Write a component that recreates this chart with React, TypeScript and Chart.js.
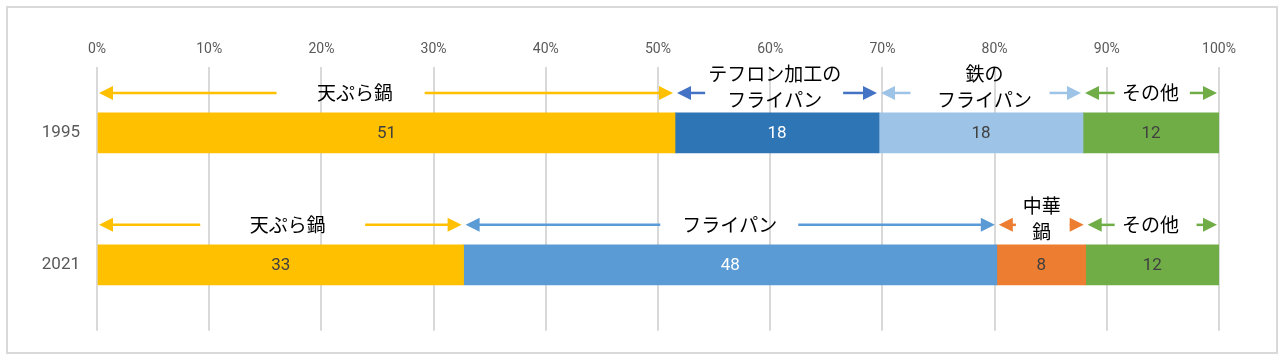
import React, { useEffect, useRef } from 'react';
import { Chart, registerables } from 'chart.js';

Chart.register(...registerables);

// ---- data ----
const years = ['1995', '2021'];
const values1995 = [51, 18, 18, 12];
const values2021 = [33, 48, 8, 12];
const names1995 = ['天ぷら鍋', 'テフロン加工の\nフライパン', '鉄の\nフライパン', 'その他'];
const names2021 = ['天ぷら鍋', 'フライパン', '中華\n鍋', 'その他'];
const xTickValues = [0, 10, 20, 30, 40, 50, 60, 70, 80, 90, 100];

// ---- styles ----
const barColors1995 = ['#FFC000', '#2E75B6', '#9DC3E6', '#70AD47'];
const barColors2021 = ['#FFC000', '#5B9BD5', '#ED7D31', '#70AD47'];
const arrowColors1995 = ['#FFC000', '#4472C4', '#9DC3E6', '#70AD47'];
const arrowColors2021 = ['#FFC000', '#5B9BD5', '#ED7D31', '#70AD47'];
const valueColors1995 = ['#404040', '#FFFFFF', '#404040', '#404040'];
const valueColors2021 = ['#404040', '#FFFFFF', '#404040', '#404040'];

// annotation layout in axis (%) units: text centre, end of left arrow tail, start of right arrow tail
const annotLayout1995 = [
  { c: 23.0, l: 16.0, r: 29.2 },
  { c: 60.4, l: 54.2, r: 66.5 },
  { c: 79.1, l: 72.5, r: 84.9 },
  { c: 93.9, l: 90.7, r: 97.4 },
];
const annotLayout2021 = [
  { c: 17.0, l: 9.2, r: 23.9 },
  { c: 56.4, l: 50.2, r: 62.5 },
  { c: 84.2, l: 81.9, r: 86.7 },
  { c: 93.9, l: 90.7, r: 98.0 },
];

const toPct = (arr: number[]) => {
  const s = arr.reduce((a, b) => a + b, 0);
  return arr.map((v) => (v / s) * 100);
};
const pct1995 = toPct(values1995);
const pct2021 = toPct(values2021);

const rows = [
  { vals: values1995, pct: pct1995, names: names1995, arrows: arrowColors1995, layout: annotLayout1995, valColors: valueColors1995 },
  { vals: values2021, pct: pct2021, names: names2021, arrows: arrowColors2021, layout: annotLayout2021, valColors: valueColors2021 },
];

const JP_FONT = '"Noto Sans CJK JP", "Noto Sans", sans-serif';
const NUM_FONT = 'Roboto, "Noto Sans", sans-serif';

function drawArrow(ctx: CanvasRenderingContext2D, from: number, tip: number, y: number, color: string) {
  const dir = tip > from ? 1 : -1;
  const headLen = 14;
  const headHalf = 7;
  ctx.save();
  ctx.strokeStyle = color;
  ctx.fillStyle = color;
  ctx.lineWidth = 2.5;
  ctx.beginPath();
  ctx.moveTo(from, y);
  ctx.lineTo(tip - dir * headLen + dir * 1, y);
  ctx.stroke();
  ctx.beginPath();
  ctx.moveTo(tip, y);
  ctx.lineTo(tip - dir * headLen, y - headHalf);
  ctx.lineTo(tip - dir * headLen, y + headHalf);
  ctx.closePath();
  ctx.fill();
  ctx.restore();
}

const annotationPlugin = {
  id: 'segAnnotations',
  afterDatasetsDraw(chart: any) {
    const ctx: CanvasRenderingContext2D = chart.ctx;
    const xs = chart.scales.x;
    // values on bars
    chart.data.datasets.forEach((ds: any, di: number) => {
      const meta = chart.getDatasetMeta(di);
      meta.data.forEach((bar: any, ri: number) => {
        const row = rows[ri];
        const cx = (bar.x + bar.base) / 2;
        ctx.save();
        ctx.fillStyle = row.valColors[di];
        ctx.font = `17px ${NUM_FONT}`;
        ctx.textAlign = 'center';
        ctx.textBaseline = 'middle';
        ctx.fillText(String(row.vals[di]), cx, bar.y + 1);
        ctx.restore();
      });
    });
    // arrows and names
    rows.forEach((row, ri) => {
      const bar = chart.getDatasetMeta(0).data[ri];
      const top = bar.y - bar.height / 2;
      const arrowY = top - 20;
      let acc = 0;
      row.pct.forEach((p, i) => {
        const start = acc;
        const end = acc + p;
        acc = end;
        const xStart = xs.getPixelForValue(start);
        const xEnd = xs.getPixelForValue(end);
        const lay = row.layout[i];
        const color = row.arrows[i];
        drawArrow(ctx, xs.getPixelForValue(lay.l), xStart + 2, arrowY, color);
        drawArrow(ctx, xs.getPixelForValue(lay.r), xEnd - 2, arrowY, color);
        const lines = row.names[i].split('\n');
        ctx.save();
        ctx.fillStyle = '#000000';
        ctx.font = `19px ${JP_FONT}`;
        ctx.textAlign = 'center';
        ctx.textBaseline = 'middle';
        const cx = xs.getPixelForValue(lay.c);
        if (lines.length === 1) {
          ctx.fillText(lines[0], cx, arrowY);
        } else {
          ctx.fillText(lines[0], cx, top - 39);
          ctx.fillText(lines[1], cx, top - 13);
        }
        ctx.restore();
      });
    });
  },
};

export default function App() {
  const ref = useRef<HTMLCanvasElement>(null);
  useEffect(() => {
    if (!ref.current) return;
    const datasets = [0, 1, 2, 3].map((i) => ({
      label: `seg${i}`,
      data: [pct1995[i], pct2021[i]],
      backgroundColor: [barColors1995[i], barColors2021[i]],
      borderWidth: 0,
      barThickness: 40,
    }));
    const chart = new Chart(ref.current, {
      type: 'bar',
      data: { labels: years, datasets },
      options: {
        indexAxis: 'y',
        responsive: false,
        animation: false,
        layout: { padding: { left: 10, right: 61, top: 20, bottom: 26 } },
        plugins: { legend: { display: false }, tooltip: { enabled: false } },
        scales: {
          x: {
            position: 'top',
            stacked: true,
            min: 0,
            max: 100,
            afterBuildTicks: (scale: any) => {
              scale.ticks = xTickValues.map((v) => ({ value: v }));
            },
            afterFit: (scale: any) => {
              scale.height = 47;
            },
            ticks: {
              callback: (v: any) => `${v}%`,
              color: '#595959',
              font: { size: 14, family: NUM_FONT },
              padding: 9,
              maxRotation: 0,
            },
            grid: { color: '#D9D9D9', lineWidth: 2, drawTicks: false },
            border: { display: false },
          },
          y: {
            stacked: true,
            afterFit: (scale: any) => {
              scale.width = 87;
            },
            ticks: {
              color: '#595959',
              font: { size: 17, family: NUM_FONT },
              padding: 17,
            },
            grid: { display: false, drawTicks: false },
            border: { display: false },
          },
        },
      } as any,
      plugins: [annotationPlugin],
    });
    return () => chart.destroy();
  }, []);
  return (
    <div style={{ position: 'fixed', left: 0, top: 0, width: 1280, height: 358, background: '#fff' }}>
      <div
        style={{
          position: 'absolute',
          left: 6,
          top: 6,
          width: 1268,
          height: 344,
          border: '2px solid #D9D9D9',
          boxSizing: 'content-box',
        }}
      />
      <canvas ref={ref} width={1280} height={358} style={{ position: 'absolute', left: 0, top: 0 }} />
    </div>
  );
}
